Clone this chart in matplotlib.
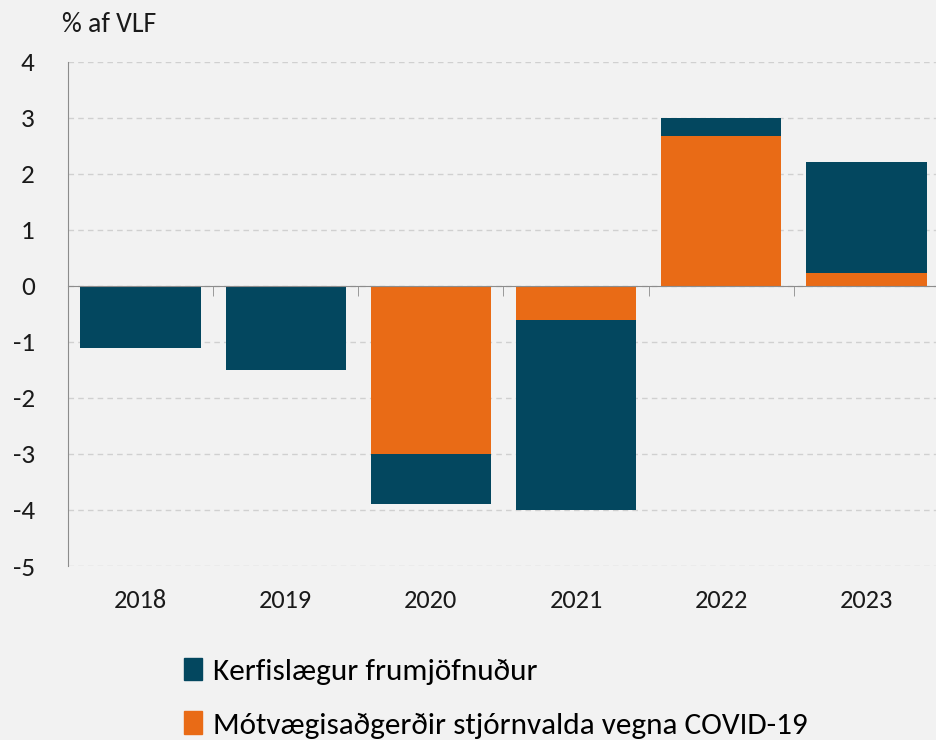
import matplotlib
matplotlib.use("Agg")
import matplotlib.pyplot as plt
import numpy as np
from matplotlib.patches import Patch
from matplotlib.transforms import blended_transform_factory

# data (% of GDP)
years = ["2018", "2019", "2020", "2021", "2022", "2023"]
covid = [0.0, 0.0, -3.0, -0.6, 2.67, 0.23]        # Mótvægisaðgerðir (orange, base)
structural = [-1.1, -1.5, -0.9, -3.4, 0.33, 1.98]  # Kerfislægur frumjöfnuður (dark)
yticks = [4, 3, 2, 1, 0, -1, -2, -3, -4, -5]

DARK = "#03475f"
ORANGE = "#e96b16"
BG = "#f2f2f2"

plt.rcParams["font.family"] = ["Carlito", "DejaVu Sans"]

fig = plt.figure(figsize=(9.37, 7.4), dpi=100, facecolor=BG)
ax = fig.add_axes([68 / 937, 1 - 566 / 740, 871 / 937, 504 / 740])
ax.set_facecolor(BG)

x = np.arange(len(years))
ax.bar(x, covid, width=0.83, color=ORANGE, zorder=3)
ax.bar(x, structural, width=0.83, bottom=covid, color=DARK, zorder=3)

ax.set_xlim(-0.5, len(years) - 0.5)
ax.set_ylim(-5, 4)
ax.set_yticks(yticks)
ax.set_yticklabels([str(t) for t in yticks], fontsize=19.5, color="#1a1a1a")
ax.tick_params(axis="y", length=0, pad=24)
ax.yaxis.grid(True, color="#d0d0d0", ls=(0, (4, 3)), lw=1, zorder=0)

for s in ("top", "right"):
    ax.spines[s].set_visible(False)
ax.spines["left"].set_color("#8c8c8c")
ax.spines["bottom"].set_position(("data", 0))
ax.spines["bottom"].set_color("#8c8c8c")
ax.spines["bottom"].set_zorder(4)

ax.set_xticks(x)
ax.set_xticklabels([])
ax.tick_params(axis="x", which="major", length=0)
ax.set_xticks(np.arange(-0.5, len(years)), minor=True)
ax.tick_params(axis="x", which="minor", length=7, color="#8c8c8c", direction="out")

tr = blended_transform_factory(ax.transData, ax.transAxes)
for xi, yr in zip(x, years):
    ax.text(xi, -0.069, yr, transform=tr, ha="center", va="center", fontsize=19, color="#1a1a1a")

fig.text(62 / 937, 1 - 24 / 740, "% af VLF", ha="left", va="center", fontsize=20, color="#1a1a1a")

handles = [Patch(color=DARK), Patch(color=ORANGE)]
labels = ["Kerfislægur frumjöfnuður", "Mótvægisaðgerðir stjórnvalda vegna COVID-19"]
fig.legend(handles, labels, loc="upper left", bbox_to_anchor=(172 / 937, 1 - 645 / 740),
           frameon=False, fontsize=22.5, handlelength=0.55, handleheight=0.75,
           handletextpad=0.35, labelspacing=0.85, borderaxespad=0)

fig.savefig("out.png", dpi=100, facecolor=BG)
